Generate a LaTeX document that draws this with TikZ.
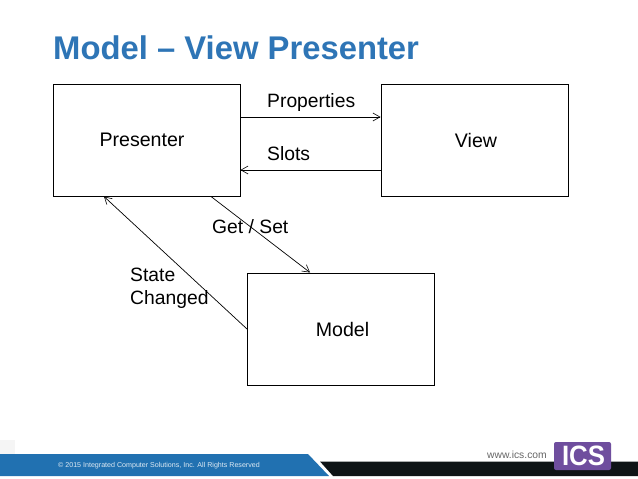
\documentclass[tikz,border=0pt]{standalone}
\usepackage{fontspec}
\setmainfont{Liberation Sans}
\usetikzlibrary{arrows.meta}
\definecolor{icsblue}{HTML}{2171B1}
\definecolor{titleblue}{HTML}{2E75B6}
\definecolor{icspurple}{HTML}{6F4E9E}
\definecolor{barblack}{HTML}{0E1416}
\newcommand{\boxtext}[2]{\kern#1pt\raisebox{-1pt}{#2}}
\tikzset{
  box/.style={draw=black,line width=1pt,minimum width=187pt,minimum height=112pt,inner sep=0pt,font=\fontsize{19.6}{23}\selectfont},
  lbl/.style={anchor=west,inner sep=0pt,align=left,font=\fontsize{19.3}{23.5}\selectfont},
  conn/.style={draw=black,line width=0.7pt,-{Straight Barb[length=7pt,width=8pt,line width=0.6pt]}}
}
\begin{document}
\begin{tikzpicture}[x=1pt,y=-1pt]
\useasboundingbox (0,0) rectangle (638,479);
\fill[white] (0,0) rectangle (638,479);
\node[anchor=west,inner sep=0pt,text=titleblue,font=\fontsize{32.8}{36}\selectfont\bfseries] (title) at (53,48) {Model – View Presenter};
\node[box] (p) at (146.5,140) {\hspace*{0pt}\raisebox{-1pt}{Presenter}\hspace*{9pt}};
\node[box] (v) at (474.5,140) {\hspace*{3pt}\raisebox{-1pt}{View}};
\node[box] (m) at (341,329) {\hspace*{3pt}\raisebox{-1pt}{Model}};
\draw[conn] ([yshift=23pt]p.east) -- ([yshift=23pt]v.west);
\draw[conn] ([yshift=-30pt]v.west) -- ([yshift=-30pt]p.east);
\draw[conn] ([xshift=64.5pt]p.south) -- ([xshift=-31pt]m.north);
\draw[conn] (m.west) -- ([xshift=-42.5pt]p.south);
\node[lbl] (lprop) at (267,103) {Properties};
\node[lbl] (lslots) at (267,153.5) {Slots};
\node[lbl] (lget) at (212,226.5) {Get / Set};
\node[lbl] (lstate) at (130,288.5) {State\\Changed};
% footer
\fill[black!4] (0,440) rectangle (15,454);
\fill[barblack] (320,461.5) -- (638,461.5) -- (638,476) -- (333,476) -- cycle;
\fill[icsblue] (0,454) -- (308,454) -- (329,476) -- (0,476) -- cycle;
\node[anchor=center,inner sep=0pt,text=white!85!icsblue,font=\fontsize{7.1}{9}\selectfont] (copy) at (159,465.5) {© 2015 Integrated Computer Solutions, Inc. All Rights Reserved};
\node[anchor=west,inner sep=0pt,text=black!60,font=\fontsize{10.3}{12}\selectfont] (web) at (487,455) {www.ics.com};
\node[anchor=center,fill=icspurple,rounded corners=2pt,minimum width=57pt,minimum height=28pt,inner sep=0pt] (logo) at (582.5,456) {};
\node[anchor=center,inner sep=0pt,text=white,font=\fontsize{28}{30}\selectfont\bfseries,xscale=0.92] (logotext) at (583.5,456) {ICS};
\end{tikzpicture}
\end{document}
